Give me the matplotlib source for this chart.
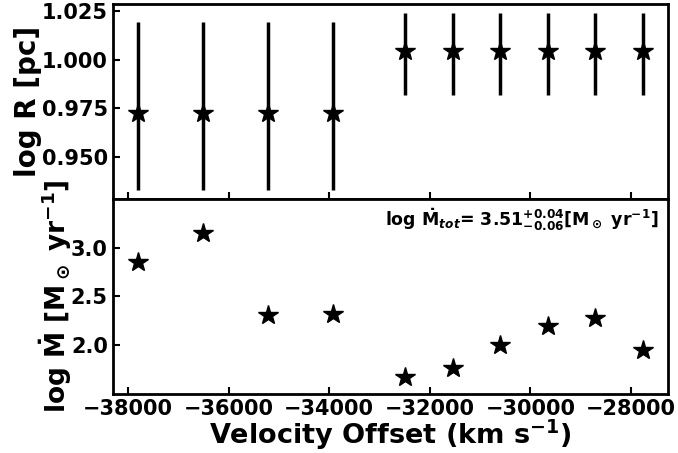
import matplotlib
matplotlib.use("Agg")
import matplotlib.pyplot as plt
import numpy as np

# Data
velocity = [-37800, -36515, -35223, -33925, -32485, -31545, -30597, -29650, -28708, -27762]
log_R = [0.9724, 0.9724, 0.9724, 0.9724, 1.0043, 1.0043, 1.0043, 1.0043, 1.0043, 1.0043]
log_R_err_up = [0.0469, 0.0469, 0.0469, 0.0469, 0.0198, 0.0198, 0.0198, 0.0198, 0.0198, 0.0198]
log_R_err_lo = [0.0396, 0.0396, 0.0396, 0.0396, 0.0224, 0.0224, 0.0224, 0.0224, 0.0224, 0.0224]
log_Mdot = [2.853, 3.153, 2.306, 2.323, 1.676, 1.761, 1.995, 2.196, 2.282, 1.949]
log_Mdot_err = [0.03] * 10

plt.rcParams['font.family'] = ['DejaVu Sans']
plt.rcParams['font.weight'] = 'bold'
plt.rcParams['mathtext.fontset'] = 'dejavusans'
plt.rcParams['mathtext.default'] = 'bf'

fig = plt.figure(figsize=(6.78, 4.53), dpi=100)
left, right = 0.1662, 0.9857
top, bottom = 0.9912, 0.1309
mid = (top + bottom) / 2
ax1 = fig.add_axes([left, mid, right - left, top - mid])
ax2 = fig.add_axes([left, bottom, right - left, mid - bottom], sharex=ax1)

ax1.errorbar(velocity, log_R, yerr=[log_R_err_lo, log_R_err_up], fmt='*', color='black',
             ms=15, elinewidth=2.5, capsize=0)
ax2.errorbar(velocity, log_Mdot, yerr=log_Mdot_err, fmt='*', color='black',
             ms=15, elinewidth=2.5, capsize=0)

ax1.set_yticks([0.950, 0.975, 1.000, 1.025])
ax1.set_yticklabels(['0.950', '0.975', '1.000', '1.025'])
ax2.set_ylim(1.5, 3.5)
ax2.set_yticks([2.0, 2.5, 3.0])
ax2.set_xticks([-38000, -36000, -34000, -32000, -30000, -28000])

for ax in (ax1, ax2):
    ax.tick_params(direction='in', length=5, width=1.5, labelsize=15)
    for lbl in ax.get_xticklabels() + ax.get_yticklabels():
        lbl.set_fontweight('bold')
    for s in ax.spines.values():
        s.set_linewidth(2)
plt.setp(ax1.get_xticklabels(), visible=False)

ax1.set_ylabel('log R [pc]', fontsize=20, fontweight='bold', labelpad=0)
ax2.set_ylabel(r'log $\dot{M}$ [M$_\odot$ yr$^{-1}$]', fontsize=19, fontweight='bold', labelpad=-2)
ax2.set_xlabel(r'Velocity Offset (km s$^{-1}$)', fontsize=19.5, fontweight='bold', labelpad=-1)

ax2.text(0.982, 0.89, r'log $\dot{M}_{\mathbfit{tot}}$= 3.51$^{+0.04}_{-0.06}$[M$_\odot$ yr$^{-1}$]',
         transform=ax2.transAxes, ha='right', va='center', fontsize=12.5, fontweight='bold')

fig.savefig('out.png', dpi=100)
